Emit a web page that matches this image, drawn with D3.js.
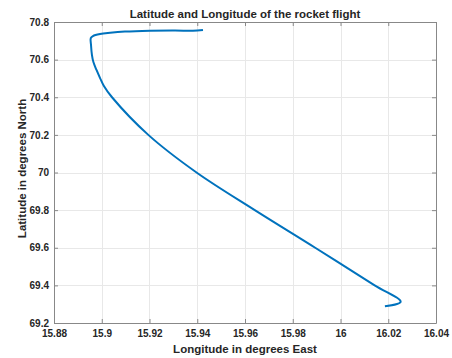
<!DOCTYPE html>
<html>
<head>
<meta charset="utf-8">
<script src="https://cdn.jsdelivr.net/npm/d3@7"></script>
<style>
  body { margin: 0; background: #fff; }
  svg text { font-family: "Liberation Sans", Arial, Helvetica, sans-serif; font-weight: bold; fill: #262626; }
</style>
</head>
<body>
<div id="graph"></div>
<script>
// flight track (launch at bottom right)
var lon = [16.0186, 16.0252, 16.0143, 15.9894, 15.9641, 15.9397, 15.9195,
  15.9043, 15.9009, 15.8993, 15.8978, 15.8965, 15.8959,
  15.8955, 15.8954, 15.8963, 15.8993, 15.9035, 15.9097, 15.9202, 15.9307, 15.9382, 15.9424];
var lat = [69.289, 69.313, 69.400, 69.600, 69.800, 70.000, 70.200,
  70.400, 70.460, 70.502, 70.545, 70.587, 70.624,
  70.678, 70.7149, 70.7255, 70.7362, 70.7426, 70.7489, 70.7537, 70.7553, 70.7532, 70.7574];

var xTicks = [15.88, 15.9, 15.92, 15.94, 15.96, 15.98, 16, 16.02, 16.04];
var yTicks = [69.2, 69.4, 69.6, 69.8, 70, 70.2, 70.4, 70.6, 70.8];

var W = 452, H = 358,
  m = { top: 22, right: 16, bottom: 35, left: 54 },
  w = W - m.left - m.right,
  h = H - m.top - m.bottom;

var svg = d3.select("#graph").append("svg").attr("width", W).attr("height", H);
var g = svg.append("g").attr("transform", "translate(" + m.left + "," + m.top + ")");

var x = d3.scaleLinear().domain([15.88, 16.04]).range([0, w]);
var y = d3.scaleLinear().domain([69.2, 70.8]).range([h, 0]);

// grid
g.selectAll(".gx").data(xTicks).enter().append("line")
  .attr("x1", d => Math.round(x(d)) + 0.5).attr("x2", d => Math.round(x(d)) + 0.5)
  .attr("y1", 0).attr("y2", h).attr("stroke", "#e8e8e8");
g.selectAll(".gy").data(yTicks).enter().append("line")
  .attr("y1", d => Math.round(y(d)) + 0.5).attr("y2", d => Math.round(y(d)) + 0.5)
  .attr("x1", 0).attr("x2", w).attr("stroke", "#e8e8e8");

// axes, ticks pointing in
var fmt = d => String(+d.toFixed(2));
var axB = g.append("g").attr("transform", "translate(0," + h + ")")
  .call(d3.axisBottom(x).tickValues(xTicks).tickFormat(fmt).tickSizeInner(-4).tickSizeOuter(0).tickPadding(7));
var axT = g.append("g")
  .call(d3.axisTop(x).tickValues(xTicks).tickFormat("").tickSizeInner(-4).tickSizeOuter(0));
var axL = g.append("g")
  .call(d3.axisLeft(y).tickValues(yTicks).tickFormat(fmt).tickSizeInner(-4).tickSizeOuter(0).tickPadding(5));
var axR = g.append("g").attr("transform", "translate(" + w + ",0)")
  .call(d3.axisRight(y).tickValues(yTicks).tickFormat("").tickSizeInner(-4).tickSizeOuter(0));

[axB, axT, axL, axR].forEach(function(a) {
  a.selectAll("path, line").attr("stroke", "#888");
  a.selectAll("text").attr("font-size", 10).attr("fill", "#262626");
  a.attr("font-family", null);
});

// track
var line = d3.line().x((d, i) => x(lon[i])).y((d, i) => y(lat[i])).curve(d3.curveCatmullRom);
g.append("path").datum(lon).attr("d", line)
  .attr("fill", "none").attr("stroke", "#0072BD").attr("stroke-width", 2)
  .attr("stroke-linejoin", "round");

// labels
svg.append("text").attr("x", m.left + w / 2).attr("y", 18).attr("text-anchor", "middle")
  .attr("font-size", 11.5).text("Latitude and Longitude of the rocket flight");
svg.append("text").attr("x", m.left + w / 2).attr("y", 353).attr("text-anchor", "middle")
  .attr("font-size", 11.5).text("Longitude in degrees East");
svg.append("text").attr("transform", "translate(26," + (m.top + h / 2 - 4) + ") rotate(-90)")
  .attr("text-anchor", "middle").attr("font-size", 11.5).text("Latitude in degrees North");
</script>
</body>
</html>
